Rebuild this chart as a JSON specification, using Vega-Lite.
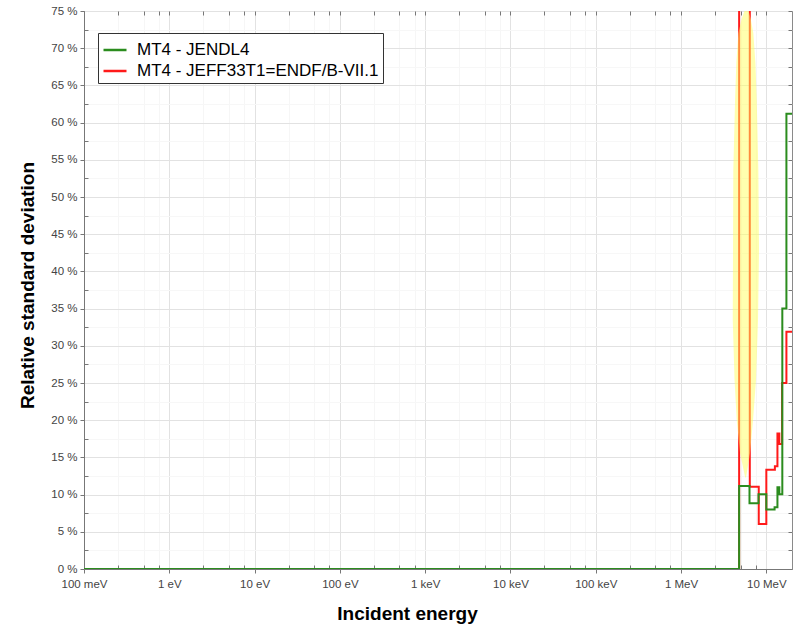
{
  "$schema": "https://vega.github.io/schema/vega-lite/v6.json",
  "width": 708,
  "height": 558,
  "autosize": "none",
  "padding": {"left": 84, "top": 11, "right": 15, "bottom": 57},
  "background": "white",
  "config": {
    "view": {"stroke": "#8a8a8a", "strokeWidth": 1},
    "font": "Liberation Sans",
    "axis": {"labelFont": "Liberation Sans", "titleFont": "Liberation Sans"},
    "legend": {"labelFont": "Liberation Sans"}
  },
  "datasets": {
    "lines": [
      {"E": 0.1, "v": 0, "s": "MT4 - JENDL4"},
      {"E": 4800000, "v": 11.15, "s": "MT4 - JENDL4"},
      {"E": 6350000, "v": 8.85, "s": "MT4 - JENDL4"},
      {"E": 8100000, "v": 10.05, "s": "MT4 - JENDL4"},
      {"E": 10000000, "v": 8.0, "s": "MT4 - JENDL4"},
      {"E": 12500000, "v": 8.3, "s": "MT4 - JENDL4"},
      {"E": 13500000, "v": 11.0, "s": "MT4 - JENDL4"},
      {"E": 14200000, "v": 10.05, "s": "MT4 - JENDL4"},
      {"E": 15400000, "v": 35.0, "s": "MT4 - JENDL4"},
      {"E": 17200000, "v": 61.2, "s": "MT4 - JENDL4"},
      {"E": 20000000, "v": 61.2, "s": "MT4 - JENDL4"},
      {"E": 0.1, "v": 0, "s": "MT4 - JEFF33T1=ENDF/B-VII.1"},
      {"E": 4800000, "v": 100, "s": "MT4 - JEFF33T1=ENDF/B-VII.1"},
      {"E": 6400000, "v": 11.05, "s": "MT4 - JEFF33T1=ENDF/B-VII.1"},
      {"E": 8150000, "v": 6.05, "s": "MT4 - JEFF33T1=ENDF/B-VII.1"},
      {"E": 10000000, "v": 13.35, "s": "MT4 - JEFF33T1=ENDF/B-VII.1"},
      {"E": 12600000, "v": 13.8, "s": "MT4 - JEFF33T1=ENDF/B-VII.1"},
      {"E": 13500000, "v": 18.2, "s": "MT4 - JEFF33T1=ENDF/B-VII.1"},
      {"E": 14200000, "v": 16.8, "s": "MT4 - JEFF33T1=ENDF/B-VII.1"},
      {"E": 15300000, "v": 25.0, "s": "MT4 - JEFF33T1=ENDF/B-VII.1"},
      {"E": 17200000, "v": 31.9, "s": "MT4 - JEFF33T1=ENDF/B-VII.1"},
      {"E": 20000000, "v": 31.9, "s": "MT4 - JEFF33T1=ENDF/B-VII.1"}
    ],
    "band": [
      {"p": 12.3, "lo": 5650000, "hi": 5780000},
      {"p": 15.6, "lo": 4920000, "hi": 6440000},
      {"p": 20, "lo": 4500000, "hi": 6980000},
      {"p": 25.4, "lo": 4240000, "hi": 7570000},
      {"p": 33.5, "lo": 4040000, "hi": 7990000},
      {"p": 43, "lo": 4070000, "hi": 8210000},
      {"p": 53.6, "lo": 4100000, "hi": 8060000},
      {"p": 63, "lo": 4300000, "hi": 7720000},
      {"p": 68, "lo": 4450000, "hi": 7450000},
      {"p": 72, "lo": 4700000, "hi": 7040000},
      {"p": 74, "lo": 5150000, "hi": 6550000},
      {"p": 75, "lo": 5550000, "hi": 6200000}
    ]
  },
  "layer": [
    {
      "data": {"name": "lines"},
      "transform": [{"filter": "datum.s == 'MT4 - JEFF33T1=ENDF/B-VII.1'"}],
      "mark": {"type": "line", "interpolate": "step-after", "strokeWidth": 2, "clip": true},
      "encoding": {
        "x": {
          "field": "E", "type": "quantitative",
          "scale": {"type": "log", "domain": [0.1, 20000000], "nice": false},
          "axis": {
            "orient": "bottom",
            "values": [0.1, 1, 10, 100, 1000, 10000, 100000, 1000000, 10000000],
            "labelExpr": "datum.value < 1 ? '100 meV' : datum.value < 1000 ? format(round(datum.value), 'd') + ' eV' : datum.value < 1000000 ? format(round(datum.value / 1000), 'd') + ' keV' : format(round(datum.value / 1000000), 'd') + ' MeV'",
            "labelFontSize": 11.5, "labelColor": "#444", "labelPadding": 5,
            "labelFlush": false, "labelOverlap": false,
            "tickSize": 4, "tickColor": "#777", "domainColor": "#777",
            "grid": true, "gridColor": "#e2e2e2",
            "title": "Incident energy", "titleFontSize": 19, "titleFontWeight": "bold", "titleColor": "black",
            "titleX": 323, "titleY": 50, "titleBaseline": "alphabetic"
          }
        },
        "y": {
          "field": "v", "type": "quantitative",
          "scale": {"domain": [0, 75], "nice": false},
          "axis": {
            "orient": "left",
            "values": [0, 5, 10, 15, 20, 25, 30, 35, 40, 45, 50, 55, 60, 65, 70, 75],
            "labelExpr": "datum.value + ' %'",
            "labelFontSize": 11.5, "labelColor": "#444", "labelPadding": 3,
            "labelFlush": false, "labelOverlap": false,
            "tickSize": 4, "tickColor": "#777", "domainColor": "#777",
            "grid": true, "gridColor": "#e2e2e2",
            "title": "Relative standard deviation", "titleFontSize": 19, "titleFontWeight": "bold", "titleColor": "black",
            "titleX": -51, "titleY": 274, "titleBaseline": "alphabetic", "titleAngle": 270
          }
        },
        "color": {
          "field": "s", "type": "nominal",
          "scale": {"domain": ["MT4 - JENDL4", "MT4 - JEFF33T1=ENDF/B-VII.1"], "range": ["#2b8c1e", "#ff1a1a"]},
          "legend": {
            "title": null, "orient": "none", "legendX": 14, "legendY": 22,
            "strokeColor": "#333", "fillColor": "white", "padding": 4, "rowPadding": 0,
            "labelFontSize": 17, "labelColor": "black", "labelOffset": 9, "labelLimit": 0,
            "symbolType": "stroke", "symbolSize": 529, "symbolStrokeWidth": 2.5, "cornerRadius": 0
          }
        }
      }
    },
    {
      "data": {"name": "lines"},
      "transform": [{"filter": "datum.s == 'MT4 - JENDL4'"}],
      "mark": {"type": "line", "interpolate": "step-after", "strokeWidth": 2, "clip": true},
      "encoding": {
        "x": {
          "field": "E", "type": "quantitative",
          "axis": {
            "orient": "bottom",
            "values": [0.25, 0.5, 0.75, 2.5, 5, 7.5, 25, 50, 75, 250, 500, 750, 2500, 5000, 7500, 25000, 50000, 75000, 250000, 500000, 750000, 2500000, 5000000, 7500000],
            "labels": false, "domain": false, "tickSize": -4, "tickColor": "#777",
            "grid": true, "gridColor": "#f6f6f6", "title": null
          }
        },
        "y": {
          "field": "v", "type": "quantitative",
          "axis": {
            "orient": "left",
            "values": [2.5, 7.5, 12.5, 17.5, 22.5, 27.5, 32.5, 37.5, 42.5, 47.5, 52.5, 57.5, 62.5, 67.5, 72.5],
            "labels": false, "domain": false, "tickSize": -4, "tickColor": "#777",
            "grid": true, "gridColor": "#f7f7f7", "title": null
          }
        },
        "color": {"field": "s", "type": "nominal"}
      }
    },
    {
      "data": {"name": "band"},
      "mark": {"type": "area", "orient": "horizontal", "color": "#ffff5f", "opacity": 0.5, "clip": true},
      "encoding": {
        "y": {
          "field": "p", "type": "quantitative",
          "axis": {
            "orient": "right",
            "values": [0, 2.5, 5, 7.5, 10, 12.5, 15, 17.5, 20, 22.5, 25, 27.5, 30, 32.5, 35, 37.5, 40, 42.5, 45, 47.5, 50, 52.5, 55, 57.5, 60, 62.5, 65, 67.5, 70, 72.5, 75],
            "labels": false, "domain": false, "tickSize": -4, "tickColor": "#777",
            "grid": false, "title": null
          }
        },
        "x": {
          "field": "lo", "type": "quantitative",
          "axis": {
            "orient": "top",
            "values": [0.1, 0.25, 0.5, 0.75, 1, 2.5, 5, 7.5, 10, 25, 50, 75, 100, 250, 500, 750, 1000, 2500, 5000, 7500, 10000, 25000, 50000, 75000, 100000, 250000, 500000, 750000, 1000000, 2500000, 5000000, 7500000, 10000000],
            "labels": false, "domain": false, "tickSize": -4, "tickColor": "#777",
            "grid": false, "title": null
          }
        },
        "x2": {"field": "hi"}
      }
    }
  ],
  "resolve": {"axis": {"x": "independent", "y": "independent"}}
}
